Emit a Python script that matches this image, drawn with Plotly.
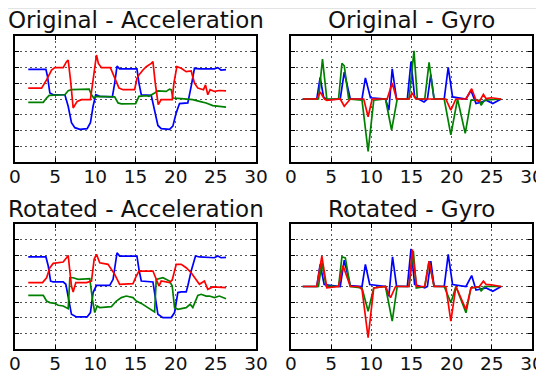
import plotly.graph_objects as go

# ---------------- data ----------------
titles = ["Original - Acceleration", "Original - Gyro", "Rotated - Acceleration", "Rotated - Gyro"]
x_ticks = [0, 5, 10, 15, 20, 25, 30]

# Original - Acceleration
oa_blue_x = [1.65,3.85,4.05,4.34,4.76,6.21,6.62,7.03,7.45,8.07,8.98,9.39,9.72,10.05,10.55,12.12,12.41,12.70,13.03,15.18,15.43,15.72,16.96,17.38,17.79,18.20,19.24,19.65,20.07,20.48,21.51,21.93,22.34,22.96,24.82,25.24,25.65,26.27]
oa_blue_y = [1.88,1.88,1.42,0.38,0.27,0.27,-0.46,-1.51,-1.82,-1.93,-1.88,-1.51,-0.46,0.27,0.17,0.13,1.01,2.09,1.91,1.91,1.01,0.27,0.23,-0.67,-1.68,-1.88,-1.93,-1.72,-0.88,-0.29,-0.25,0.80,1.95,1.91,1.91,1.99,1.84,1.86]
oa_green_x = [1.65,3.52,3.93,4.26,6.21,6.62,7.03,9.23,9.52,9.81,10.14,12.41,12.83,13.24,15.02,15.43,16.34,16.67,17.38,17.79,18.82,19.24,19.45,19.65,20.69,21.31,22.13,22.96,23.79,24.62,25.44,26.27]
oa_green_y = [-0.21,-0.21,0.06,0.23,0.27,0.52,0.59,0.63,0.27,0.06,0.17,0.13,-0.25,-0.31,-0.29,0.17,0.21,0.17,0.38,0.52,0.48,0.63,0.59,0.06,0.02,0.00,-0.04,-0.15,-0.25,-0.42,-0.46,-0.52]
oa_red_x = [1.65,3.31,3.93,4.55,4.96,6.00,6.41,6.62,6.91,7.24,7.74,8.27,9.39,9.72,10.14,10.38,10.76,11.87,12.41,12.95,13.45,14.89,15.18,15.43,15.93,16.34,16.96,17.17,17.46,17.83,18.20,19.57,19.78,20.15,20.69,21.31,21.93,22.34,22.76,23.46,23.71,24.00,24.29,24.82,25.44,26.27]
oa_red_y = [0.69,0.69,1.21,1.84,1.99,1.99,2.37,2.47,1.21,-0.57,-0.15,-0.04,-0.04,1.21,2.79,2.26,1.99,1.99,1.32,0.69,0.59,0.59,1.32,1.53,1.84,2.05,2.26,2.37,1.01,-0.36,-0.04,-0.04,1.01,2.05,1.95,1.74,1.78,1.01,0.69,0.59,0.90,0.27,0.59,0.48,0.54,0.52]

# Original - Gyro
og_blue_x = [1.46,3.21,3.63,4.05,4.46,6.13,6.63,7.38,8.84,9.26,9.89,11.76,12.18,12.60,13.14,14.48,14.94,15.39,16.56,16.98,17.40,17.81,19.07,19.57,20.11,21.78,22.40,23.03,23.66,24.29,25.12,26.16]
og_blue_y = [0,0,1.38,0.13,-0.04,0,1.70,0,0,1.34,0.08,0,-0.71,1.91,0,0,2.37,0.13,-0.19,0,1.55,0,0,2.01,0.13,0,0.54,-0.29,-0.21,-0.08,-0.29,0]
og_green_x = [1.46,3.42,3.92,4.46,5.92,6.34,6.63,7.18,8.84,9.60,10.30,11.76,12.52,13.22,14.69,15.31,15.73,16.65,17.19,17.81,19.07,19.90,20.73,21.69,22.40,23.45,23.66,24.08,26.16]
og_green_y = [0,0,2.53,0,0,2.26,2.11,0,-0.08,-3.33,-0.08,0,-1.97,0,0,3.06,0,0,2.32,0,0,-2.28,0,-2.18,-0.08,-0.08,-0.40,-0.08,0]
og_red_x = [1.46,3.21,3.63,4.17,4.46,6.13,6.63,7.38,9.05,9.60,10.10,11.97,12.60,13.14,14.69,15.10,15.52,19.27,19.90,20.53,21.78,22.49,23.03,23.45,23.95,24.29,24.91,26.16]
og_red_y = [0,0,0.44,0,-0.08,0,-0.46,0,0,-1.13,0,0,1.01,0,0,0.38,0,0,-0.71,0,0,0.65,-0.08,-0.15,0.29,0.02,0.08,0]

# Rotated - Acceleration
ra_blue_x = [1.65,3.85,4.14,4.43,4.76,6.00,6.33,6.62,7.03,7.65,8.98,9.39,9.72,10.14,11.79,12.21,12.70,13.03,15.18,15.43,15.72,17.17,17.38,17.79,18.41,19.45,19.86,20.27,20.69,21.31,21.51,21.93,22.47,22.96,24.82,25.24,25.65,26.27]
ra_blue_y = [1.89,1.89,1.31,0.35,0.29,0.29,0.14,-0.61,-1.78,-1.95,-1.95,-1.67,-0.39,0.07,0.07,0.46,2.16,1.95,1.95,1.10,0.35,0.29,-0.39,-1.78,-1.99,-1.99,-1.67,-0.39,-0.35,-0.35,0.03,0.99,1.95,1.89,1.84,1.95,1.84,1.86]
ra_green_x = [1.65,3.52,3.93,4.34,4.96,5.38,6.00,6.41,6.62,6.83,7.24,7.86,9.31,9.64,9.93,10.22,10.55,12.00,12.62,13.24,13.86,14.69,15.10,15.72,16.34,16.96,17.38,17.58,18.41,19.24,19.57,19.86,20.27,21.31,21.80,22.13,22.76,23.17,23.79,24.20,24.82,25.44,26.27]
ra_green_y = [-0.57,-0.57,-0.93,-1.03,-1.08,-1.20,-1.25,-1.35,-1.42,0.56,0.56,0.46,0.50,-0.82,-1.67,-1.25,-1.35,-1.29,-0.93,-0.71,-0.61,-0.71,-0.93,-1.08,-1.29,-1.46,-1.63,0.46,0.56,0.35,0.03,-1.35,-1.46,-1.35,-1.14,-1.35,-0.57,-0.50,-0.61,-0.61,-0.71,-0.61,-0.78]
ra_red_x = [1.65,3.43,3.93,4.34,4.76,6.00,6.41,6.62,7.03,7.24,7.57,8.89,9.52,9.85,10.14,10.55,11.58,12.41,13.03,14.69,15.10,15.43,17.17,17.58,17.92,18.20,19.24,19.57,20.07,20.69,21.31,21.93,22.55,22.96,23.58,24.00,24.62,25.44,26.27]
ra_red_y = [0.25,0.25,0.56,1.20,1.48,1.57,1.84,1.99,0.03,-0.35,0.25,0.25,0.35,1.74,2.06,1.52,1.42,0.78,0.14,0.18,0.67,0.99,0.99,0.46,0.03,0.35,0.25,0.42,1.42,1.42,1.20,0.88,0.46,0.14,0.35,-0.18,-0.03,-0.07,-0.07]

# Rotated - Gyro
rg_blue_x = [1.46,3.21,3.63,4.13,6.13,6.63,7.38,8.84,9.26,9.80,11.76,12.18,12.64,13.14,14.48,14.94,15.39,16.65,16.98,17.40,17.81,19.07,19.57,20.11,21.78,22.49,23.03,23.66,24.29,25.12,26.16]
rg_blue_y = [0,0,1.41,0.13,0,1.68,0.06,0,1.41,0.13,0,-0.62,1.90,0.02,0,2.41,0.13,-0.09,0,1.62,0.02,0,2.05,0.13,0,0.70,-0.23,-0.15,-0.09,-0.30,0]
rg_green_x = [1.46,3.42,3.84,4.38,5.92,6.34,6.76,7.38,8.84,9.60,10.30,11.76,12.60,13.22,14.69,15.23,15.60,16.65,17.19,17.81,19.07,19.90,20.53,21.78,22.40,23.45,23.66,24.08,26.16]
rg_green_y = [0,0,1.51,0.02,0,1.90,1.83,0,-0.09,-1.58,-0.09,0,-2.22,0,0,2.26,-0.09,0,1.62,0,0,-1.04,0,-1.68,-0.09,-0.02,-0.30,0,0]
rg_red_x = [1.46,3.21,3.84,4.46,5.92,6.47,7.38,8.43,8.84,9.60,10.30,11.76,12.39,13.02,14.69,15.10,15.64,16.65,17.19,17.81,19.27,19.90,20.53,21.78,22.40,23.45,23.95,24.29,24.91,26.16]
rg_red_y = [0,0,1.94,-0.09,0,1.34,0,0,-0.19,-3.28,-0.09,0,-0.72,0,0,2.37,0,0,1.62,0,0,-2.22,0,-1.47,-0.09,0,0.34,0.13,0.11,0]

panels = [
    [(oa_blue_x, oa_blue_y), (oa_green_x, oa_green_y), (oa_red_x, oa_red_y)],
    [(og_blue_x, og_blue_y), (og_green_x, og_green_y), (og_red_x, og_red_y)],
    [(ra_blue_x, ra_blue_y), (ra_green_x, ra_green_y), (ra_red_x, ra_red_y)],
    [(rg_blue_x, rg_blue_y), (rg_green_x, rg_green_y), (rg_red_x, rg_red_y)],
]
colors = ["#0000ff", "#008000", "#ff0000"]

# ---------------- layout ----------------
# the page body has an 8px default margin, so the figure is 8px smaller
OFF = 8
W, H = 544 - OFF, 373 - OFF
def px_x(p): return (p - OFF) / W
def px_y(p): return 1 - (p - OFF) / H

xdoms = [[px_x(15), px_x(256)], [px_x(291), px_x(532)]]
ydoms = [[px_y(162), px_y(36)], [px_y(349), px_y(224)]]
title_y = [px_y(20), px_y(209)]

fig = go.Figure()
layout = dict(
    width=W, height=H,
    margin=dict(l=0, r=0, t=0, b=0, autoexpand=False),
    paper_bgcolor="white", plot_bgcolor="white",
    showlegend=False,
    font=dict(family="DejaVu Sans", color="#111"),
    annotations=[],
    shapes=[dict(type="line", xref="paper", yref="paper", x0=0, x1=1,
                 y0=px_y(8.5), y1=px_y(8.5), line=dict(color="#e4e4e4", width=1))],
)

for i, series in enumerate(panels):
    r, c = divmod(i, 2)
    xa = "xaxis" if i == 0 else f"xaxis{i+1}"
    ya = "yaxis" if i == 0 else f"yaxis{i+1}"
    xref = "x" if i == 0 else f"x{i+1}"
    yref = "y" if i == 0 else f"y{i+1}"
    for (sx, sy), col in zip(series, colors):
        fig.add_trace(go.Scatter(x=sx, y=sy, mode="lines", xaxis=xref, yaxis=yref,
                                 line=dict(color=col, width=1.7)))
    common = dict(showline=True, linecolor="black", linewidth=1.5, mirror="allticks",
                  ticks="inside", ticklen=4, tickcolor="black", tickwidth=1,
                  showgrid=True, gridcolor="#555", gridwidth=1, griddash="1.5px,3.5px",
                  zeroline=False, fixedrange=True, automargin=False)
    layout[xa] = dict(domain=xdoms[c], anchor=yref, range=[0, 30], tickvals=x_ticks,
                      ticktext=[str(v) for v in x_ticks], ticklabelstandoff=-3,
                      ticklabeloverflow="allow",
                      tickfont=dict(size=18.5, family="DejaVu Sans", color="#111"), **common)
    layout[ya] = dict(domain=ydoms[r], anchor=xref, range=[-4, 4], dtick=1, tick0=0,
                      showticklabels=False, **common)
    layout["annotations"].append(dict(
        text=titles[i], xref="paper", yref="paper",
        x=(xdoms[c][0] + xdoms[c][1]) / 2, y=title_y[r],
        xanchor="center", yanchor="middle", showarrow=False,
        font=dict(size=23, family="DejaVu Sans", color="#111")))

fig.update_layout(**layout)
fig.write_html("out.html")
